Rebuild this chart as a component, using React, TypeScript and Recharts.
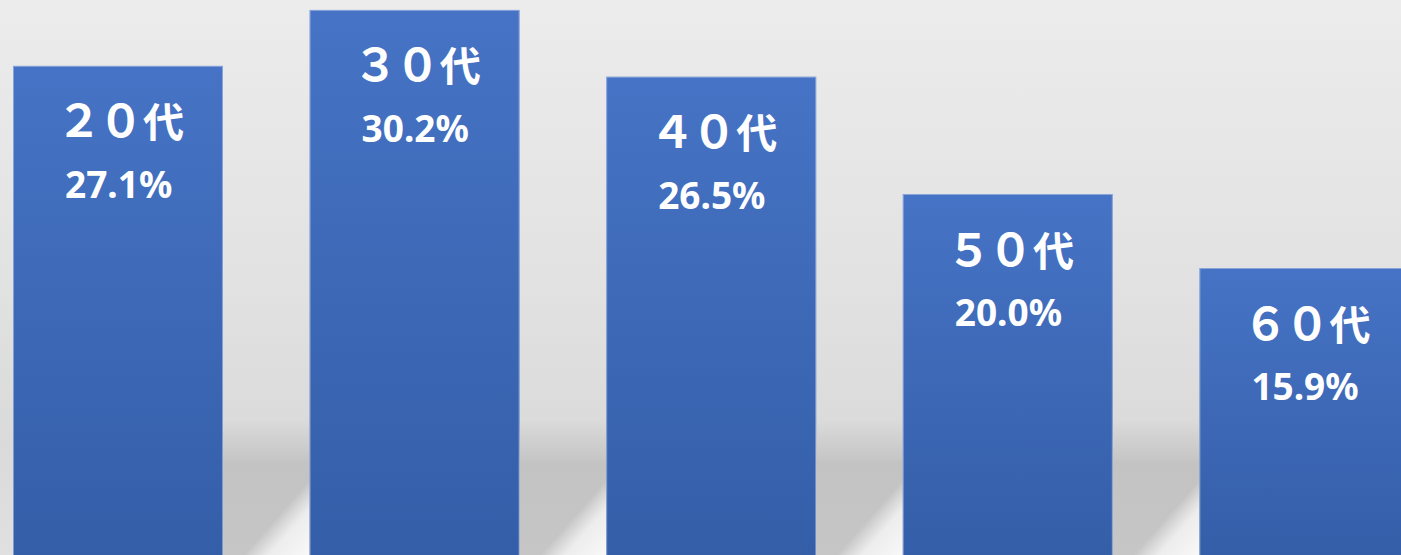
import React from 'react';
import { BarChart, Bar, XAxis, YAxis, LabelList } from 'recharts';

const categories = ['２０代', '３０代', '４０代', '５０代', '６０代'];
const shares = [27.1, 30.2, 26.5, 20.0, 15.9];
const yDomainMax = 30.75;

const data = categories.map((age, i) => ({ age, share: shares[i] }));

const CHART_W = 1483;
const CHART_H = 555;
const GAP = 86.6;
const FLOOR_TOP = 420;

const BarShape = (props: any) => {
  const { x, y, width, height, index } = props;
  return (
    <g>
      {index > 0 && (
        <g>
          <rect x={x - GAP} y={FLOOR_TOP} width={GAP} height={CHART_H - FLOOR_TOP} fill="url(#floorShadow)" />
          <rect x={x - GAP} y={FLOOR_TOP} width={GAP} height={CHART_H - FLOOR_TOP} fill="url(#floorLight)" />
        </g>
      )}
      <rect x={x} y={y} width={width} height={height} fill="url(#barFill)" />
      <rect x={x + 0.5} y={y + 0.5} width={width - 1} height={height} fill="none" stroke="#c9d7f2" strokeOpacity={0.5} strokeWidth={1} />
    </g>
  );
};

const AgeLabel = (props: any) => {
  const { x, y, value } = props;
  const s = String(value);
  const digits = s.slice(0, s.length - 1);
  const suffix = s.slice(s.length - 1);
  return (
    <text x={x + 43.5} y={y + 71.5} fill="#ffffff" fontWeight="bold" fontFamily="'Noto Sans CJK JP', sans-serif">
      <tspan fontSize={45} letterSpacing={-3.2}>{digits}</tspan>
      <tspan fontSize={41} dx={3}>{suffix}</tspan>
    </text>
  );
};

const ShareLabel = (props: any) => {
  const { x, y, value } = props;
  return (
    <text x={x + 52} y={y + 132} fill="#ffffff" fontSize={37} fontWeight="bold" fontFamily="'Noto Sans', sans-serif">
      {Number(value).toFixed(1)}%
    </text>
  );
};

export default function App() {
  return (
    <div
      style={{
        position: 'absolute',
        left: 0,
        top: 0,
        width: 1401,
        height: 555,
        overflow: 'hidden',
        background: 'linear-gradient(180deg, #ececec 0%, #e2e2e2 50%, #dadada 80%, #e0e0e0 100%)',
      }}
    >
      <div style={{ position: 'absolute', left: -29.8, top: 0 }}>
        <BarChart width={CHART_W} height={CHART_H} data={data} margin={{ top: 0, right: 0, bottom: 0, left: 0 }}>
          <defs>
            <linearGradient id="barFill" x1="0" y1="0" x2="0" y2="1">
              <stop offset="0%" stopColor="#4673c5" />
              <stop offset="100%" stopColor="#345ea8" />
            </linearGradient>
            <linearGradient id="floorShadow" x1="0" y1="0" x2="0" y2="1">
              <stop offset="0%" stopColor="#c4c4c4" stopOpacity={0} />
              <stop offset="18%" stopColor="#c6c6c6" stopOpacity={0.6} />
              <stop offset="32%" stopColor="#c3c3c3" stopOpacity={1} />
              <stop offset="100%" stopColor="#c6c6c6" stopOpacity={1} />
            </linearGradient>
            <linearGradient id="floorLight" x1="0.5" y1="0.55" x2="0.91" y2="1.11">
              <stop offset="0%" stopColor="#f8f8f8" stopOpacity={0} />
              <stop offset="30%" stopColor="#f8f8f8" stopOpacity={0} />
              <stop offset="55%" stopColor="#f4f4f4" stopOpacity={0.85} />
              <stop offset="100%" stopColor="#fafafa" stopOpacity={1} />
            </linearGradient>
          </defs>
          <XAxis dataKey="age" hide />
          <YAxis hide domain={[0, yDomainMax]} />
          <Bar dataKey="share" barSize={210} isAnimationActive={false} shape={<BarShape />}>
            <LabelList dataKey="age" content={<AgeLabel />} />
            <LabelList dataKey="share" content={<ShareLabel />} />
          </Bar>
        </BarChart>
      </div>
    </div>
  );
}
